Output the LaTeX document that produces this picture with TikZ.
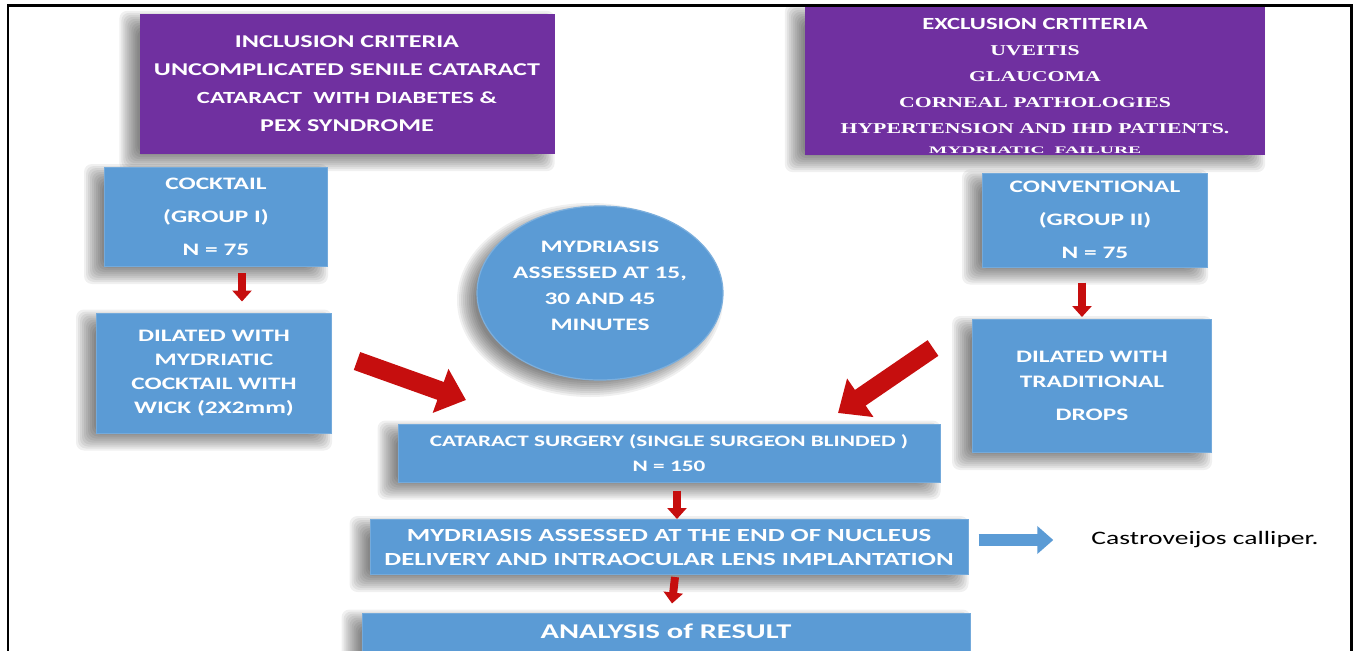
\documentclass[tikz,border=0pt]{standalone}
\usepackage{fontspec}
\usepackage{graphicx}
\setmainfont{Carlito}[FakeStretch=1.45]
\newfontfamily\tms{Liberation Serif}[FakeStretch=1.45]
\usetikzlibrary{shapes.geometric,arrows.meta,calc,backgrounds}
\definecolor{pur}{RGB}{112,48,160}
\definecolor{blu}{RGB}{91,155,213}
\definecolor{arr}{RGB}{198,14,14}
\tikzset{
  purbox/.style={rectangle, fill=pur, text=white, align=center, inner sep=0pt},
  blubox/.style={rectangle, fill=blu, draw=blu!85!white, line width=1pt, text=white, align=center, inner sep=0pt},
  ell/.style={ellipse, fill=blu, draw=blu!80!white, line width=1.2pt, inner sep=0pt},
  txt/.style={text=white, align=center, inner sep=0pt},
  shadowlayer/.style={fill=black, opacity=0.06},
  redsmall/.style={draw=arr, line width=8pt, -{Triangle[width=19pt,length=11pt]}},
  redbig/.style={draw=arr, line width=19pt, -{Triangle[width=45pt,length=27pt]}},
  bluarr/.style={draw=blu, line width=12pt, -{Triangle[width=27pt,length=16pt]}}
}
\newcommand\softshadow[1]{%
  \foreach \i in {0,...,9}{%
    \fill[shadowlayer, rounded corners=8pt] ($(#1.north west)+(-20+2*\i,-3+2*\i)$) rectangle ($(#1.south east)+(-2*\i,17-2*\i)$);
  }%
}
\begin{document}
\begin{tikzpicture}[x=1pt,y=-1pt]
\useasboundingbox (0,0) rectangle (1353,651);
\clip (0,0) rectangle (1353,651);

% criteria boxes
\node[purbox, minimum width=415pt, minimum height=140pt, font=\fontsize{18}{28}\selectfont\bfseries] (inc) at (347,84)
  {INCLUSION CRITERIA\\UNCOMPLICATED SENILE CATARACT\\{\fontsize{17}{28}\selectfont CATARACT\ \ WITH DIABETES \&}\\PEX SYNDROME};
\node[purbox, minimum width=460pt, minimum height=148pt] (exc) at (1035,81) {};
\node[txt, font=\fontsize{15}{26}\selectfont\bfseries] (exct) at (1035,86)
  {{\fontsize{17}{26}\selectfont EXCLUSION CRTITERIA}\\{\tms UVEITIS}\\{\tms GLAUCOMA}\\{\tms CORNEAL PATHOLOGIES}\\{\tms HYPERTENSION AND IHD PATIENTS.}\\[-6pt]{\tms\fontsize{10}{12}\selectfont\scalebox{1.35}[1]{MYDRIATIC\ \ FAILURE}}};

% group boxes
\node[blubox, minimum width=223pt, minimum height=99pt, font=\fontsize{17.5}{33}\selectfont\bfseries] (cock) at (216,217)
  {COCKTAIL\\(GROUP I)\\N = 75};
\node[blubox, minimum width=235pt, minimum height=120pt, font=\fontsize{17.5}{24}\selectfont\bfseries] (dil1) at (214,373)
  {DILATED WITH\\MYDRIATIC\\COCKTAIL WITH\\WICK (2X2mm)};
\node[blubox, minimum width=225pt, minimum height=94pt, font=\fontsize{17.5}{33}\selectfont\bfseries] (conv) at (1095,220)
  {CONVENTIONAL\\(GROUP II)\\N = 75};
\node[blubox, minimum width=239pt, minimum height=133pt, font=\fontsize{17.5}{25}\selectfont\bfseries] (dil2) at (1092,386)
  {DILATED WITH\\TRADITIONAL\\[8pt]DROPS};

% ellipse
\node[ell, minimum width=246pt, minimum height=174pt] (ell) at (600,293) {};
\node[txt, font=\fontsize{17.5}{26}\selectfont\bfseries] (ellt) at (600,286)
  {MYDRIASIS\\ASSESSED AT 15,\\30 AND 45\\MINUTES};

% central column
\node[blubox, minimum width=542pt, minimum height=58pt, font=\fontsize{16}{25}\selectfont\bfseries] (cat) at (669,453)
  {CATARACT SURGERY (SINGLE SURGEON BLINDED )\\N = 150};
\node[blubox, minimum width=598pt, minimum height=55pt, font=\fontsize{18.5}{24}\selectfont\bfseries] (myd) at (669,547)
  {MYDRIASIS ASSESSED AT THE END OF NUCLEUS\\DELIVERY AND INTRAOCULAR LENS IMPLANTATION};
\node[blubox, minimum width=608pt, minimum height=76pt] (ana) at (666,651) {};
\node[txt, font=\fontsize{21}{24}\selectfont\bfseries] (anat) at (666,631) {ANALYSIS of RESULT};

\node[inner sep=0pt, font=\fontsize{19}{22}\selectfont, text=black] (cal) at (1205,540) {Castroveijos calliper.};

% soft shadows behind the shapes
\begin{scope}[on background layer]
  \fill[white] (0,0) rectangle (1353,651);
  \softshadow{inc}
  \softshadow{exc}
  \softshadow{cock}
  \softshadow{dil1}
  \softshadow{conv}
  \softshadow{dil2}
  \softshadow{cat}
  \softshadow{myd}
  \softshadow{ana}
  \foreach \i in {0,...,9}{%
    \fill[shadowlayer] ($(ell.center)+(-10,7)$) ellipse [x radius=133-2*\i, y radius=97-2*\i];
  }
\end{scope}

% connectors
\draw[redsmall] ($(cock.south)+(26,6)$) -- ($(dil1.north)+(28,-11)$);
\draw[redsmall] ($(conv.south)+(-13,15)$) -- ($(dil2.north)+(-10,-2)$);
\draw[redsmall] ($(cat.south)+(8,8)$) -- ($(myd.north)+(8,0)$);
\draw[redsmall] ($(myd.south)+(6,2)$) -- ($(ana.north)+(6,-9)$);
\coordinate (lt) at (357,361);
\coordinate (lh) at (466,400);
\coordinate (rt) at (933,348);
\coordinate (rh) at (838,413);
\draw[redbig] (lt) -- (lh);
\draw[redbig] (rt) -- (rh);
\draw[bluarr] ($(myd.east |- cal.west)+(10,0)$) -- ($(cal.west)+(-38,0)$);

% frame
\draw[line width=2.5pt] (8,660) -- (8,5.5) -- (1351.5,5.5) -- (1351.5,660);
\end{tikzpicture}
\end{document}
